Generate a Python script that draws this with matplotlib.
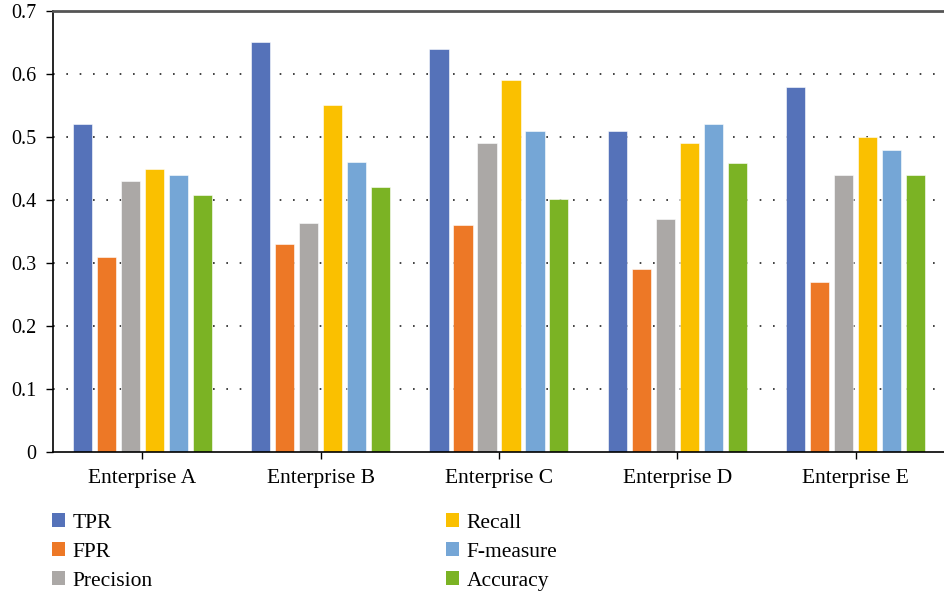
import matplotlib
matplotlib.use("Agg")
import matplotlib.pyplot as plt
import numpy as np
from matplotlib.patches import Patch

categories = ["Enterprise A", "Enterprise B", "Enterprise C", "Enterprise D", "Enterprise E"]
series_names = ["TPR", "FPR", "Precision", "Recall", "F-measure", "Accuracy"]
tpr = [0.52, 0.65, 0.64, 0.51, 0.58]
fpr = [0.31, 0.33, 0.36, 0.29, 0.27]
precision = [0.43, 0.363, 0.49, 0.37, 0.44]
recall = [0.45, 0.551, 0.591, 0.49, 0.50]
f_measure = [0.44, 0.46, 0.51, 0.52, 0.48]
accuracy = [0.408, 0.421, 0.401, 0.459, 0.44]
colors = ["#5572B9", "#ED7826", "#ABA8A6", "#FAC000", "#75A6D6", "#7BB324"]
yticks = [0, 0.1, 0.2, 0.3, 0.4, 0.5, 0.6, 0.7]

plt.rcParams['font.family'] = ['Liberation Serif', 'DejaVu Serif']

fig = plt.figure(figsize=(9.45, 5.94), dpi=100)
ax = fig.add_axes([0.056, 0.239, 0.944, 0.7425])

data = [tpr, fpr, precision, recall, f_measure, accuracy]
x = np.arange(len(categories)) + 0.5
pitch = 0.1345
bw = 0.107
for i, (vals, c) in enumerate(zip(data, colors)):
    ax.bar(x + (i - 2.5) * pitch, vals, width=bw, color=c, edgecolor='white',
           linewidth=0.4, zorder=2, label=series_names[i])

ax.set_xlim(0, 5)
ax.set_ylim(0, 0.7)
ax.set_yticks(yticks)
ax.set_yticklabels([f"{v:g}" for v in yticks])
ax.set_xticks(x)
ax.set_xticklabels(categories)
ax.tick_params(axis='y', length=5, width=1, pad=7, labelsize=14.5, color='black')
ax.tick_params(axis='x', length=5, width=1, pad=7, labelsize=15.5, color='black')

for yv in yticks[1:-1]:
    ax.axhline(yv, color='#222222', linestyle=(0, (1, 7)), linewidth=1.2, zorder=1)

ax.spines['right'].set_visible(False)
ax.spines['top'].set_color('#555555')
ax.spines['top'].set_linewidth(2)
ax.spines['left'].set_color('black')
ax.spines['left'].set_linewidth(1.2)
ax.spines['bottom'].set_color('black')
ax.spines['bottom'].set_linewidth(1.2)

handles = [Patch(facecolor=c, edgecolor='none') for c in colors]
fig.legend(handles, series_names, loc='upper left', bbox_to_anchor=(0.055, 0.136),
           ncol=2, frameon=False, fontsize=15.5, handlelength=0.6, handleheight=0.6,
           handletextpad=0.35, labelspacing=0.45, columnspacing=13.65, borderaxespad=0,
           borderpad=0)

fig.savefig("out.png", dpi=100)
